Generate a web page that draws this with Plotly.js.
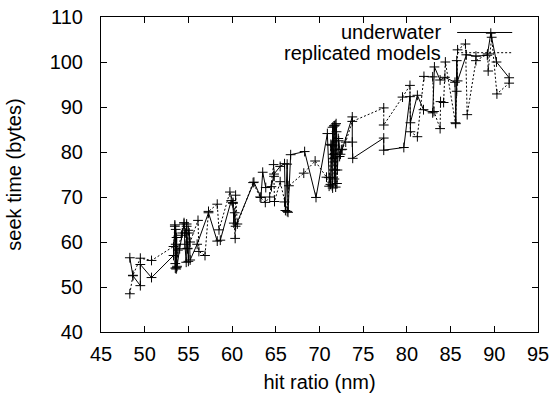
<!DOCTYPE html>
<html>
<head>
<meta charset="utf-8">
<script src="https://cdn.plot.ly/plotly-3.0.1.min.js"></script>
<style>html,body{margin:0;padding:0;background:#fff;}#chart{width:552px;height:394px;}</style>
</head>
<body>
<div id="chart"></div>
<script>
const seriesNames = ["underwater", "replicated models"];
const xTicks = [45, 50, 55, 60, 65, 70, 75, 80, 85, 90, 95];
const yTicks = [40, 50, 60, 70, 80, 90, 100, 110];

const underwaterX = [48.3,48.65,49.5,49.5,50.78,53.3,53.45,53.5,53.55,53.6,53.65,53.7,54.0,54.3,54.5,54.6,54.75,54.8,54.9,55.0,55.1,55.2,56.0,57.3,58.3,58.65,59.9,60.1,60.2,60.3,60.4,62.5,63.3,63.5,63.85,64.5,64.8,65.5,66.0,66.1,66.3,66.4,66.7,68.3,69.6,70.9,71.1,71.25,71.35,71.45,71.5,71.55,71.65,71.7,71.8,71.85,71.95,72.05,72.2,72.4,72.6,73.75,73.75,73.8,77.35,77.35,79.65,80.35,80.4,81.2,81.9,82.95,83.15,83.8,84.35,85.5,85.6,85.7,85.8,86.8,87.9,89.2,89.6,90.25,91.7];
const underwaterY = [56.5,52.5,50.3,55.0,52.1,57.0,63.5,54.2,62.8,54.0,61.0,54.6,58.5,62.0,64.0,59.5,55.5,63.5,58.5,55.7,62.0,56.0,59.5,66.5,60.2,60.4,69.2,68.8,64.2,66.5,63.5,73.3,69.9,75.5,72.1,72.3,75.1,76.8,77.4,67.0,77.3,66.6,79.4,80.1,69.9,84.1,74.3,72.8,81.5,72.5,85.5,78.5,85.8,74.0,86.0,72.2,84.5,76.0,82.5,79.5,80.6,87.8,82.2,78.6,83.1,80.4,81.0,92.3,86.5,92.6,89.4,88.7,98.9,96.0,96.6,95.5,86.3,100.3,95.8,101.6,101.3,101.5,106.4,100.0,96.5];

const replicatedX = [48.3,48.65,49.5,50.78,53.3,53.45,53.5,53.55,53.65,53.8,54.2,54.5,54.65,54.8,54.9,55.0,55.2,56.1,56.2,56.9,57.3,58.3,58.5,59.75,60.1,60.35,60.4,60.6,62.4,63.2,63.8,64.3,64.75,64.8,64.85,65.5,66.0,66.3,66.5,68.2,69.5,70.8,71.1,71.3,71.5,71.6,71.7,71.8,71.9,72.0,72.15,72.3,72.5,73.0,73.75,77.35,77.35,79.5,80.35,80.4,81.2,81.95,82.95,83.1,83.8,83.85,84.2,84.4,85.55,85.7,85.8,86.7,86.9,87.9,89.25,89.3,89.7,90.3,91.7];
const replicatedY = [48.5,52.6,56.4,55.9,59.0,63.8,55.2,59.5,54.3,58.2,61.5,64.3,62.0,64.0,58.6,62.6,60.0,64.8,57.9,57.0,66.8,68.4,62.7,71.1,68.6,60.8,70.4,64.0,73.2,70.0,68.8,70.0,77.2,74.6,69.0,73.4,68.9,66.8,72.5,75.3,78.0,74.4,72.4,81.7,72.0,79.5,85.8,76.0,86.3,73.0,83.0,79.0,80.5,82.2,86.8,89.8,86.0,92.2,94.8,84.5,83.4,96.8,96.7,89.0,85.2,91.2,91.0,100.0,86.5,93.5,102.7,104.0,88.3,100.3,101.8,98.0,105.5,92.9,95.3];

const FONT = "Liberation Sans, Arial, Helvetica, sans-serif";
const FS = 20;
const mk = {symbol: "cross-thin-open", size: 7, color: "#000", line: {width: 1, color: "#000"}};

const traces = [
  {x: underwaterX, y: underwaterY, name: seriesNames[0], type: "scatter", mode: "lines+markers",
   line: {color: "#000", width: 1}, marker: mk, showlegend: false},
  {x: replicatedX, y: replicatedY, name: seriesNames[1], type: "scatter", mode: "lines+markers",
   line: {color: "#000", width: 1, dash: "2px,2px"}, marker: mk, showlegend: false}
];

const axisCommon = {
  showgrid: false, zeroline: false, showline: true, linecolor: "#000", linewidth: 1,
  mirror: "ticks", ticks: "inside", ticklen: 6, tickcolor: "#000", tickwidth: 1,
  tickfont: {family: FONT, size: FS, color: "#000"}
};

const layout = {
  width: 552, height: 394,
  margin: {l: 101, r: 14, t: 17, b: 62},
  paper_bgcolor: "#fff", plot_bgcolor: "#fff",
  showlegend: false,
  xaxis: Object.assign({}, axisCommon, {range: [45, 95], tickvals: xTicks, ticktext: xTicks.map(String),
    ticklabelstandoff: 4,
    title: {text: "hit ratio (nm)", font: {family: FONT, size: FS, color: "#000"}, standoff: 10}}),
  yaxis: Object.assign({}, axisCommon, {range: [40, 110], tickvals: yTicks, ticktext: yTicks.map(String),
    ticklabelstandoff: 13,
    title: {text: "seek time (bytes)", font: {family: FONT, size: FS, color: "#000"}, standoff: 22}}),
  annotations: [
    {xref: "paper", yref: "paper", x: 0.783, y: 0.9508, xanchor: "right", yanchor: "middle",
     text: seriesNames[0], showarrow: false, font: {family: FONT, size: FS, color: "#000"}},
    {xref: "paper", yref: "paper", x: 0.783, y: 0.8867, xanchor: "right", yanchor: "middle",
     text: seriesNames[1], showarrow: false, font: {family: FONT, size: FS, color: "#000"}}
  ],
  shapes: [
    {type: "line", xref: "paper", yref: "paper", x0: 0.815, x1: 0.941, y0: 0.9508, y1: 0.9508,
     line: {color: "#000", width: 1}},
    {type: "line", xref: "paper", yref: "paper", x0: 0.815, x1: 0.941, y0: 0.8867, y1: 0.8867,
     line: {color: "#000", width: 1, dash: "2px,2px"}}
  ]
};

Plotly.newPlot("chart", traces, layout, {staticPlot: true, displayModeBar: false});
</script>
</body>
</html>
